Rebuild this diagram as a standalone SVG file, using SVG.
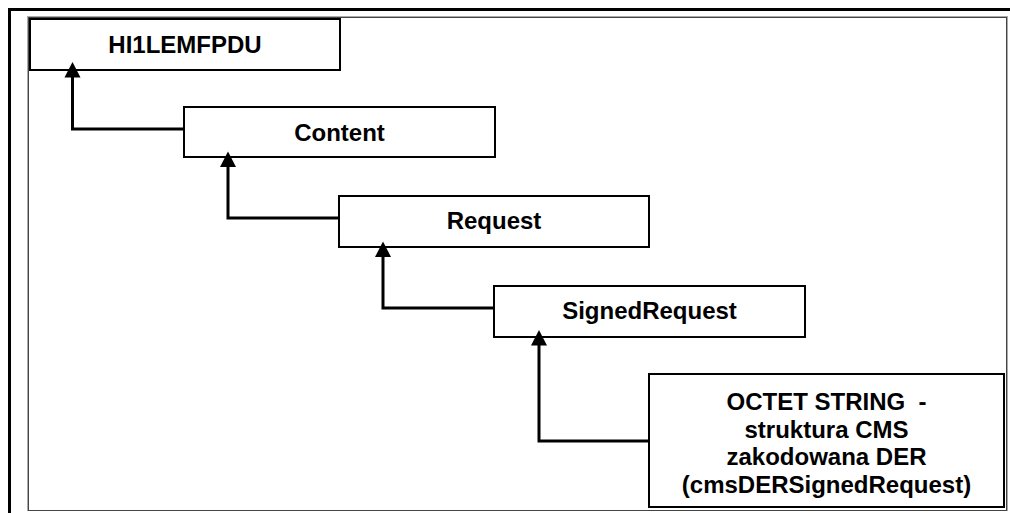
<svg xmlns="http://www.w3.org/2000/svg" width="1010" height="513" viewBox="0 0 1010 513">
  <defs>
    <!-- solid upward arrowhead, tip at the origin -->
    <path id="arrow-up" d="M0,0 L8,15.5 L-8,15.5 z" fill="#000"/>
    <style>
      .node { fill: #fff; stroke: #000; stroke-width: 2; }
      .label { font-family: "Liberation Sans", Arial, sans-serif; font-weight: bold; font-size: 24px; fill: #000; text-anchor: middle; }
      .link { fill: none; stroke: #000; stroke-width: 3; }
    </style>
  </defs>

  <rect width="1010" height="513" fill="#fff"/>

  <!-- page frame -->
  <g id="frame">
    <path d="M9.5,513 L9.5,9.5 L1010,9.5" fill="none" stroke="#000" stroke-width="3"/>
    <rect x="27.5" y="16.5" width="980" height="494" fill="none" stroke="#aaa" stroke-width="1"/>
    <rect x="28.5" y="17.5" width="978" height="493" fill="none" stroke="#444" stroke-width="1"/>
  </g>

  <g id="hi1lemfpdu">
    <rect class="node" x="30" y="19" width="310" height="51"/>
    <text class="label" x="185" y="53">HI1LEMFPDU</text>
  </g>

  <g id="content">
    <rect class="node" x="184" y="107" width="311" height="50"/>
    <text class="label" x="339.5" y="141">Content</text>
  </g>

  <g id="request">
    <rect class="node" x="339" y="196" width="310" height="51"/>
    <text class="label" x="494" y="229">Request</text>
  </g>

  <g id="signed-request">
    <rect class="node" x="494" y="286" width="311" height="51"/>
    <text class="label" x="649.5" y="319">SignedRequest</text>
  </g>

  <g id="octet-string">
    <rect class="node" x="649" y="374" width="355" height="133" stroke-width="2.5"/>
    <text class="label" x="826.5" y="410" xml:space="preserve">OCTET STRING  -</text>
    <text class="label" x="826.5" y="437.5">struktura CMS</text>
    <text class="label" x="826.5" y="465">zakodowana DER</text>
    <text class="label" x="826.5" y="492.5">(cmsDERSignedRequest)</text>
  </g>

  <!-- connectors: each child points up to its parent -->
  <g id="connectors">
    <path class="link" d="M184,129 L72.5,129 L72.5,76"/>
    <use href="#arrow-up" x="72.5" y="62"/>
    <path class="link" d="M339,218 L228,218 L228,166"/>
    <use href="#arrow-up" x="228" y="151.5"/>
    <path class="link" d="M494,308 L383,308 L383,256"/>
    <use href="#arrow-up" x="383" y="241.5"/>
    <path class="link" d="M649,441 L539,441 L539,344"/>
    <use href="#arrow-up" x="539" y="330"/>
  </g>
</svg>
